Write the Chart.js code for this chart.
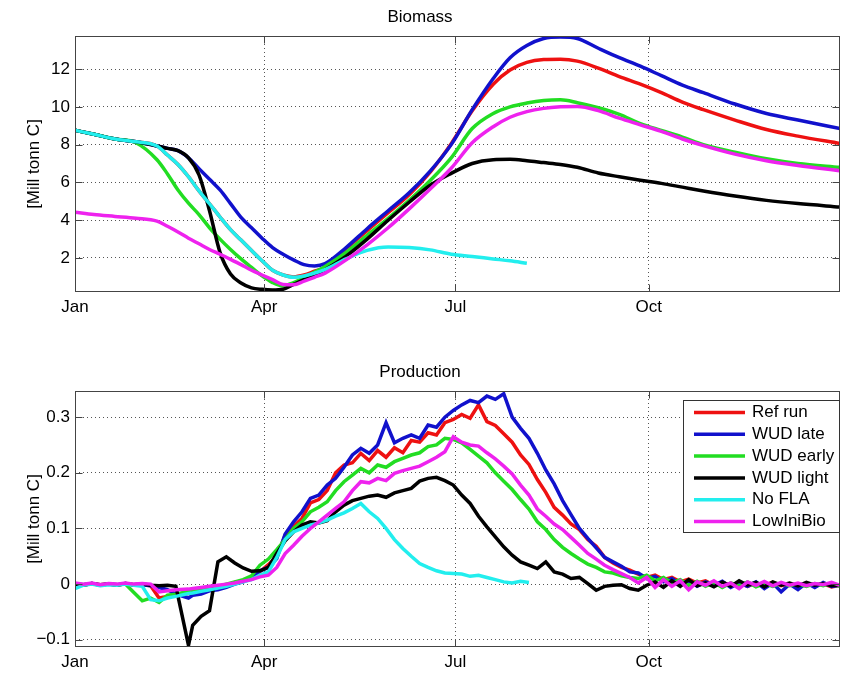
<!DOCTYPE html>
<html>
<head>
<meta charset="utf-8">
<title>Biomass and Production</title>
<script src="https://cdn.jsdelivr.net/npm/chart.js"></script>
<style>
    body { margin: 0; background: #fff; }
    #wrap { position: relative; width: 841px; height: 677px; }
    #topChart { position: absolute; left: 0; top: 0; }
    #bottomChart { position: absolute; left: 0; top: 330px; }
</style>
</head>
<body>
<div id="wrap">
    <canvas id="topChart" width="841" height="330"></canvas>
    <canvas id="bottomChart" width="841" height="347"></canvas>
</div>
<script>
// series names and colours (legend order)
var seriesNames = ["Ref run", "WUD late", "WUD early", "WUD light", "No FLA", "LowIniBio"];
var seriesColors = ["#ee1111", "#1111cc", "#22dd22", "#000000", "#22eeee", "#ee22ee"];

// x axis: day of year, month ticks
var xTickDays = [1, 91, 182, 274];
var xTickLabels = ["Jan", "Apr", "Jul", "Oct"];

// Biomass [Mill tonn C]
var bioDays = [1, 10, 20, 30, 40, 45, 50, 55, 60, 65, 70, 75, 80, 85, 90, 95, 100, 105, 110, 115,
    120, 130, 140, 150, 160, 170, 180, 190, 200, 208, 216, 224, 232, 240, 250, 260, 270, 280, 290, 300,
    315, 330, 345, 365];
var bioRef = [8.76, 8.55, 8.3, 8.15, 7.93, 7.45, 6.95, 6.3, 5.55, 4.87, 4.17, 3.5, 2.95, 2.4, 1.85, 1.35, 1.1, 1.0, 1.1, 1.3,
    1.5, 2.5, 3.45, 4.4, 5.35, 6.55, 8.05, 9.8, 11.2, 11.95, 12.35, 12.5, 12.52, 12.42, 12.05, 11.6, 11.2, 10.75, 10.25, 9.85,
    9.3, 8.8, 8.45, 8.06];
var bioLate = [8.76, 8.55, 8.3, 8.15, 7.93, 7.8, 7.68, 7.3, 6.73, 6.17, 5.6, 4.88, 4.15, 3.6, 3.05, 2.55, 2.2, 1.9, 1.65, 1.58,
    1.7, 2.55, 3.55, 4.5, 5.45, 6.6, 8.0, 9.85, 11.5, 12.6, 13.25, 13.62, 13.7, 13.62, 13.1, 12.6, 12.15, 11.65, 11.15, 10.75,
    10.15, 9.65, 9.3, 8.85];
var bioEarly = [8.76, 8.55, 8.3, 8.1, 7.2, 6.45, 5.6, 4.9, 4.3, 3.6, 3.0, 2.45, 1.95, 1.5, 1.05, 0.7, 0.52, 0.7, 0.95, 1.25,
    1.55, 2.3, 3.2, 4.1, 5.05, 6.1, 7.3, 8.85, 9.65, 10.0, 10.2, 10.33, 10.37, 10.22, 9.95, 9.6, 9.11, 8.75, 8.4, 8.0,
    7.6, 7.25, 7.0, 6.8];
var bioLight = [8.76, 8.55, 8.3, 8.15, 7.93, 7.8, 7.68, 7.3, 6.4, 4.5, 2.3, 1.15, 0.68, 0.42, 0.34, 0.31, 0.35, 0.6, 0.85, 1.05,
    1.38, 2.1, 3.0, 4.0, 4.95, 5.85, 6.48, 7.0, 7.2, 7.22, 7.15, 7.05, 6.95, 6.8, 6.5, 6.3, 6.12, 5.95, 5.75, 5.55,
    5.28, 5.05, 4.88, 4.7];
var bioNoFla = [8.76, 8.55, 8.3, 8.15, 7.93, 7.45, 6.95, 6.3, 5.55, 4.87, 4.17, 3.5, 2.95, 2.4, 1.85, 1.35, 1.1, 0.98, 1.05, 1.2,
    1.38, 1.95, 2.4, 2.58, 2.55, 2.43, 2.2, 2.08, 1.95, 1.85, 1.72, null, null, null, null, null, null, null, null, null,
    null, null, null, null];
var bioLowIni = [4.42, 4.3, 4.2, 4.1, 3.95, 3.68, 3.38, 3.05, 2.75, 2.45, 2.2, 1.93, 1.65, 1.35, 1.1, 0.85, 0.6, 0.58, 0.78, 0.98,
    1.2, 1.9, 2.7, 3.6, 4.6, 5.65, 6.75, 8.1, 8.95, 9.45, 9.75, 9.92, 10.0, 10.02, 9.8, 9.4, 9.05, 8.7, 8.3, 7.95,
    7.5, 7.15, 6.9, 6.62];
var bioTicks = [2, 4, 6, 8, 10, 12];

// Production [Mill tonn C]
var prodDays = [1, 5, 9, 13, 17, 21, 25, 29, 33, 37, 41, 45, 49, 55, 57, 61, 65, 69, 73, 77,
    81, 85, 89, 93, 97, 101, 105, 109, 113, 117, 121, 125, 129, 133, 137, 141, 145, 149, 153, 157,
    161, 165, 169, 173, 177, 181, 185, 189, 193, 197, 201, 205, 209, 213, 217, 221, 225, 229, 233, 237,
    241, 245, 249, 253, 257, 261, 265, 269, 273, 277, 281, 285, 289, 293, 297, 301, 305, 309, 313, 317,
    321, 325, 329, 333, 337, 341, 345, 349, 353, 357, 361, 365];
var prodRef = [0.000, -0.002, 0.001, -0.001, 0.000, -0.002, 0.001, -0.001, 0.000, -0.003,
    -0.025, -0.022, -0.020, -0.017, -0.015, -0.012, -0.008, -0.004, -0.003, 0.003,
    0.006, 0.010, 0.022, 0.035, 0.050, 0.088, 0.104, 0.118, 0.146, 0.152,
    0.168, 0.200, 0.214, 0.218, 0.235, 0.222, 0.240, 0.228, 0.245, 0.236,
    0.258, 0.255, 0.272, 0.268, 0.290, 0.296, 0.305, 0.298, 0.322, 0.292,
    0.285, 0.270, 0.255, 0.232, 0.215, 0.188, 0.165, 0.138, 0.124, 0.108,
    0.098, 0.080, 0.068, 0.048, 0.038, 0.030, 0.025, 0.018, 0.012, 0.016,
    0.008, 0.012, 0.004, 0.009, 0.002, 0.006, -0.002, 0.004, -0.003, 0.003,
    -0.004, 0.002, -0.002, 0.003, -0.003, 0.001, -0.004, 0.002, -0.003, 0.001,
    -0.005, -0.002];
var prodLate = [0.000, -0.001, 0.001, -0.002, 0.000, -0.001, 0.001, -0.002, -0.001, -0.003,
    -0.006, -0.010, -0.018, -0.025, -0.020, -0.018, -0.012, -0.010, -0.006, 0.000,
    0.004, 0.012, 0.024, 0.030, 0.046, 0.090, 0.112, 0.130, 0.154, 0.160,
    0.178, 0.190, 0.210, 0.232, 0.244, 0.235, 0.250, 0.290, 0.254, 0.262,
    0.268, 0.262, 0.286, 0.282, 0.300, 0.312, 0.322, 0.330, 0.326, 0.338,
    0.332, 0.342, 0.300, 0.280, 0.262, 0.235, 0.205, 0.180, 0.150, 0.125,
    0.100, 0.082, 0.065, 0.048, 0.040, 0.032, 0.022, 0.020, 0.010, 0.014,
    0.004, 0.010, 0.000, 0.006, -0.004, 0.004, -0.002, 0.005, -0.006, 0.002,
    -0.004, 0.004, -0.008, 0.002, -0.014, 0.000, -0.010, 0.002, -0.006, 0.003,
    -0.004, -0.002];
var prodEarly = [0.000, -0.001, 0.001, -0.002, 0.000, -0.001, 0.000, -0.015, -0.030, -0.025,
    -0.033, -0.020, -0.018, -0.013, -0.012, -0.010, -0.006, -0.004, 0.000, 0.004,
    0.008, 0.015, 0.034, 0.045, 0.062, 0.080, 0.100, 0.112, 0.130, 0.138,
    0.148, 0.168, 0.184, 0.196, 0.208, 0.200, 0.214, 0.210, 0.220, 0.226,
    0.232, 0.236, 0.247, 0.250, 0.262, 0.260, 0.254, 0.242, 0.230, 0.218,
    0.200, 0.185, 0.170, 0.152, 0.135, 0.112, 0.098, 0.080, 0.066, 0.055,
    0.045, 0.036, 0.030, 0.022, 0.020, 0.015, 0.012, 0.010, 0.016, 0.006,
    0.012, 0.002, 0.008, -0.002, 0.005, -0.004, 0.003, -0.006, 0.002, -0.003,
    0.004, -0.005, 0.001, -0.004, 0.002, -0.003, 0.000, -0.004, 0.001, -0.003,
    0.002, -0.004];
var prodLight = [0.000, -0.002, 0.001, -0.001, 0.000, -0.002, 0.001, -0.001, 0.000, -0.002,
    -0.003, -0.002, -0.004, -0.110, -0.074, -0.058, -0.048, 0.040, 0.049, 0.038,
    0.029, 0.023, 0.024, 0.030, 0.055, 0.078, 0.094, 0.106, 0.112, 0.110,
    0.114, 0.130, 0.142, 0.150, 0.154, 0.158, 0.160, 0.156, 0.164, 0.168,
    0.172, 0.185, 0.190, 0.192, 0.186, 0.178, 0.160, 0.145, 0.122, 0.103,
    0.085, 0.067, 0.052, 0.040, 0.034, 0.028, 0.040, 0.022, 0.018, 0.010,
    0.012, 0.001, -0.011, -0.004, -0.002, -0.001, -0.008, -0.011, -0.002, 0.004,
    -0.006, 0.006, -0.004, 0.008, -0.003, 0.002, -0.005, 0.004, -0.004, 0.006,
    -0.002, 0.003, -0.005, 0.004, -0.002, 0.002, -0.003, 0.003, -0.002, 0.001,
    -0.003, -0.001];
var prodNoFla = [-0.008, -0.002, 0.000, -0.003, -0.001, -0.002, 0.000, -0.002, -0.004, -0.028,
    -0.030, -0.025, -0.022, -0.017, -0.016, -0.013, -0.010, -0.007, -0.004, 0.000,
    0.004, 0.008, 0.016, 0.022, 0.048, 0.080, 0.094, 0.100, 0.106, 0.110,
    0.115, 0.122, 0.128, 0.136, 0.145, 0.130, 0.118, 0.100, 0.080, 0.064,
    0.050, 0.037, 0.030, 0.024, 0.020, 0.019, 0.018, 0.014, 0.016, 0.012,
    0.008, 0.004, 0.002, 0.005, 0.003, null, null, null, null, null,
    null, null, null, null, null, null, null, null, null, null,
    null, null, null, null, null, null, null, null, null, null,
    null, null, null, null, null, null, null, null, null, null,
    null, null];
var prodLowIni = [0.002, 0.000, 0.002, -0.001, 0.001, 0.000, 0.002, 0.000, 0.001, 0.000,
    -0.014, -0.012, -0.010, -0.009, -0.008, -0.006, -0.004, -0.002, 0.000, 0.002,
    0.005, 0.008, 0.013, 0.016, 0.030, 0.055, 0.070, 0.086, 0.100, 0.112,
    0.124, 0.136, 0.148, 0.168, 0.184, 0.182, 0.190, 0.186, 0.199, 0.204,
    0.208, 0.212, 0.220, 0.228, 0.238, 0.265, 0.255, 0.250, 0.248, 0.236,
    0.225, 0.212, 0.198, 0.178, 0.160, 0.135, 0.122, 0.108, 0.098, 0.084,
    0.070, 0.055, 0.045, 0.034, 0.026, 0.019, 0.012, 0.002, 0.012, -0.006,
    0.008, -0.004, 0.006, -0.010, 0.004, -0.002, 0.006, -0.004, 0.002, -0.008,
    0.004, -0.002, 0.005, -0.003, 0.003, -0.002, 0.002, -0.003, 0.001, -0.001,
    0.003, -0.002];
var prodTicks = [-0.1, 0, 0.1, 0.2, 0.3];

Chart.defaults.font.family = '"Liberation Sans", Arial, Helvetica, sans-serif';
Chart.defaults.font.size = 17;
Chart.defaults.color = "#000";

// box around the axes plus inward tick marks, matlab style
var frameTicks = {
    id: "frameTicks",
    afterDatasetsDraw: function (chart) {
        var ctx = chart.ctx;
        var a = chart.chartArea;
        var xs = chart.scales.x;
        var ys = chart.scales.y;
        var l = Math.round(a.left) + 0.5, r = Math.round(a.right) - 0.5;
        var t = Math.round(a.top) + 0.5, b = Math.round(a.bottom) - 0.5;
        ctx.save();
        ctx.strokeStyle = "#444";
        ctx.lineWidth = 1;
        ctx.strokeRect(l, t, r - l, b - t);
        ctx.beginPath();
        xs.ticks.forEach(function (tk) {
            var px = Math.round(xs.getPixelForValue(tk.value)) + 0.5;
            ctx.moveTo(px, b); ctx.lineTo(px, b - 7);
            ctx.moveTo(px, t); ctx.lineTo(px, t + 7);
        });
        ys.ticks.forEach(function (tk) {
            var py = Math.round(ys.getPixelForValue(tk.value)) + 0.5;
            ctx.moveTo(l, py); ctx.lineTo(l + 7, py);
            ctx.moveTo(r, py); ctx.lineTo(r - 7, py);
        });
        ctx.stroke();
        ctx.restore();
    }
};

// legend box inside the upper right corner of the axes
var insideLegend = {
    id: "insideLegend",
    afterDatasetsDraw: function (chart, args, opts) {
        if (!opts.show) return;
        var ctx = chart.ctx;
        var a = chart.chartArea;
        var w = 157, h = 133;
        var x0 = Math.round(a.right) - w, y0 = Math.round(a.top) + 9;
        ctx.save();
        ctx.fillStyle = "#fff";
        ctx.fillRect(x0, y0, w, h);
        ctx.strokeStyle = "#333";
        ctx.lineWidth = 1;
        ctx.strokeRect(x0 + 0.5, y0 + 0.5, w - 1, h - 1);
        ctx.font = '17px "Liberation Sans", Arial, sans-serif';
        ctx.textBaseline = "middle";
        chart.data.datasets.forEach(function (ds, i) {
            var y = y0 + 12.5 + i * 21.8;
            ctx.strokeStyle = ds.borderColor;
            ctx.lineWidth = 3.5;
            ctx.beginPath();
            ctx.moveTo(x0 + 11, y);
            ctx.lineTo(x0 + 62, y);
            ctx.stroke();
            ctx.fillStyle = "#000";
            ctx.fillText(ds.label, x0 + 69, y);
        });
        ctx.restore();
    }
};

function buildSets(days, valueLists, smooth) {
    return valueLists.map(function (vals, i) {
        var pts = [];
        for (var j = 0; j < days.length; j++) {
            if (vals[j] != null) pts.push({x: days[j], y: vals[j]});
        }
        return {
            label: seriesNames[i],
            data: pts,
            borderColor: seriesColors[i],
            backgroundColor: seriesColors[i],
            borderWidth: 3.5,
            pointRadius: 0,
            fill: false,
            order: valueLists.length - i,
            cubicInterpolationMode: smooth ? "monotone" : "default",
            tension: 0
        };
    });
}

function yLabel(v) {
    if (Math.abs(v) < 1e-9) return "0";
    if (Math.abs(v) < 1) return (v < 0 ? "\u2212" : "") + Math.abs(v).toFixed(1);
    return String(v);
}

function makeOptions(title, titlePad, yMin, yMax, yTicks, xHeight, legendOn) {
    return {
        responsive: false,
        animation: false,
        events: [],
        layout: {padding: {left: 0, right: 1, top: 0, bottom: 0}},
        plugins: {
            legend: {display: false},
            tooltip: {enabled: false},
            title: {
                display: true,
                text: title,
                color: "#000",
                font: {size: 17, weight: "normal"},
                padding: titlePad
            },
            insideLegend: {show: legendOn}
        },
        scales: {
            x: {
                type: "linear",
                min: 1,
                max: 365,
                afterBuildTicks: function (s) {
                    s.ticks = xTickDays.map(function (v) { return {value: v}; });
                },
                afterFit: function (s) { s.height = xHeight; },
                ticks: {
                    autoSkip: false,
                    maxRotation: 0,
                    padding: 5,
                    color: "#000",
                    callback: function (v) { return xTickLabels[xTickDays.indexOf(v)]; }
                },
                grid: {drawTicks: false, color: "#555", lineWidth: 1},
                border: {display: false, dash: [1, 3]}
            },
            y: {
                min: yMin,
                max: yMax,
                afterBuildTicks: function (s) {
                    s.ticks = yTicks.map(function (v) { return {value: v}; });
                },
                afterFit: function (s) { s.width = 75; },
                ticks: {padding: 5, color: "#000", callback: yLabel},
                grid: {drawTicks: false, color: "#555", lineWidth: 1},
                border: {display: false, dash: [1, 3]},
                title: {
                    display: true,
                    text: "[Mill tonn C]",
                    color: "#000",
                    font: {size: 17},
                    padding: {top: 24, bottom: 0}
                }
            }
        }
    };
}

function makeCharts() {
    new Chart(document.getElementById("topChart"), {
        type: "line",
        data: {datasets: buildSets(bioDays, [bioRef, bioLate, bioEarly, bioLight, bioNoFla, bioLowIni], true)},
        options: makeOptions("Biomass", {top: 7, bottom: 8.6}, 0.2, 13.75, bioTicks, 38, false),
        plugins: [frameTicks, insideLegend]
    });

    new Chart(document.getElementById("bottomChart"), {
        type: "line",
        data: {datasets: buildSets(prodDays, [prodRef, prodLate, prodEarly, prodLight, prodNoFla, prodLowIni], false)},
        options: makeOptions("Production", {top: 32, bottom: 8.6}, -0.113, 0.347, prodTicks, 30, true),
        plugins: [frameTicks, insideLegend]
    });
}

document.addEventListener("DOMContentLoaded", makeCharts);
</script>
</body>
</html>
